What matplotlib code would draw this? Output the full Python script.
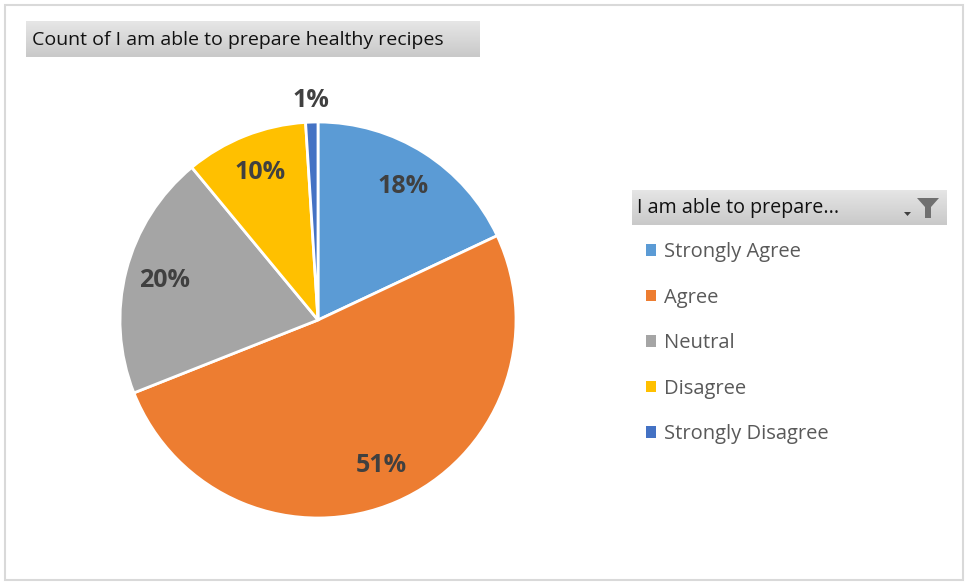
import numpy as np
import matplotlib.pyplot as plt
from matplotlib.colors import LinearSegmentedColormap
from matplotlib.patches import Rectangle, Polygon, Patch

plt.rcParams['font.family'] = ['Open Sans', 'DejaVu Sans']

# Respuestas de la encuesta
categorias = ["Strongly Agree", "Agree", "Neutral", "Disagree", "Strongly Disagree"]
porcentajes = [18, 51, 20, 10, 1]
colores = ["#5B9BD5", "#ED7D31", "#A5A5A5", "#FFC000", "#4472C4"]
titulo = "Count of I am able to prepare healthy recipes"
titulo_leyenda = "I am able to prepare..."

W, H = 967, 582
fig = plt.figure(figsize=(W / 100, H / 100), dpi=100)
gris = LinearSegmentedColormap.from_list('gris', ['#E6E6E6', '#C9C9C9'])


def caja(x0, y0, x1, y1):
    # Caja con degradado gris (coordenadas en pixeles, y desde arriba)
    axg = fig.add_axes([x0 / W, 1 - y1 / H, (x1 - x0) / W, (y1 - y0) / H])
    grad = np.linspace(0, 1, 64).reshape(-1, 1)
    axg.imshow(grad, aspect='auto', cmap=gris, extent=[0, 1, 0, 1], origin='upper')
    axg.axis('off')
    return axg


# Marco exterior
fig.patches.append(Rectangle((5 / W, 1 - 580 / H), 958 / W, 575 / H, transform=fig.transFigure,
                             facecolor='none', edgecolor='#D9D9D9', linewidth=1.5))

# Titulo
caja(26, 21, 480, 57)
fig.text(32 / W, 1 - 40 / H, titulo, fontsize=14, va='center', ha='left', color='#111111')

# Pastel
cx, cy, r = 318, 320, 198
ax = fig.add_axes([(cx - r) / W, 1 - (cy + r) / H, 2 * r / W, 2 * r / H])
wedges, textos, autotextos = ax.pie(
    porcentajes, colors=colores, startangle=90, counterclock=False,
    autopct='%d%%', pctdistance=0.8,
    wedgeprops=dict(edgecolor='white', linewidth=2),
    textprops=dict(fontsize=18, fontweight='bold', color='#404040'))
ax.set_xlim(-1, 1)
ax.set_ylim(-1, 1)
ax.set_aspect('auto')

# La etiqueta del 1% va fuera de la porcion
w = wedges[-1]
ang = np.deg2rad((w.theta1 + w.theta2) / 2)
autotextos[-1].set_position((1.11 * np.cos(ang), 1.11 * np.sin(ang)))

# Leyenda
caja(632, 190, 947, 225)
fig.text(637 / W, 1 - 208 / H, titulo_leyenda, fontsize=14.2, va='center', ha='left', color='#111111')
# Icono de filtro
fx, fy = 928, 198
embudo = [(fx - 11, fy), (fx + 11, fy), (fx + 3, fy + 9), (fx + 3, fy + 20), (fx - 3, fy + 20), (fx - 3, fy + 9)]
fig.patches.append(Polygon([(x / W, 1 - y / H) for x, y in embudo], closed=True,
                           transform=fig.transFigure, facecolor='#707070', edgecolor='none'))
flecha = [(904, 212), (911, 212), (907.5, 216)]
fig.patches.append(Polygon([(x / W, 1 - y / H) for x, y in flecha], closed=True,
                           transform=fig.transFigure, facecolor='#404040', edgecolor='none'))

handles = [Patch(facecolor=c, edgecolor='none') for c in colores]
fig.legend(handles, categorias, loc='upper left', bbox_to_anchor=(646 / W, 1 - 242 / H),
           frameon=False, fontsize=14.5, labelcolor='#595959',
           handlelength=0.5, handleheight=0.5, handletextpad=0.38,
           labelspacing=1.27, borderaxespad=0, borderpad=0)

fig.savefig('out.png', dpi=100)
